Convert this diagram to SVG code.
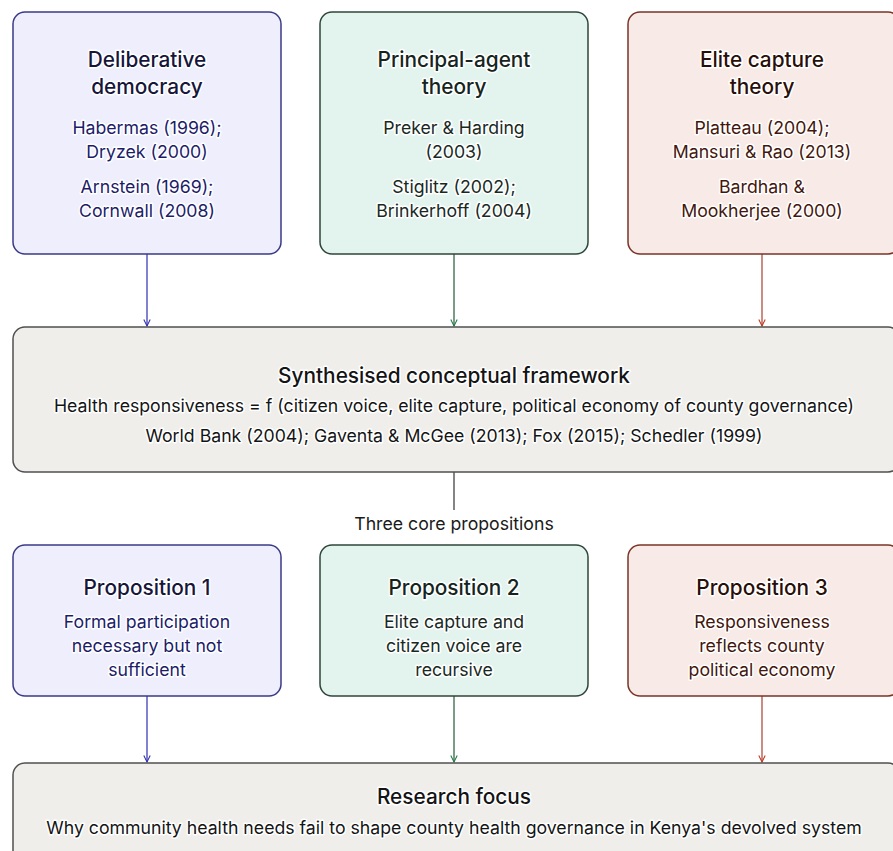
<svg xmlns="http://www.w3.org/2000/svg" width="893" height="851" viewBox="0 0 893 851">
<style>
text{font-family:Inter,"Noto Sans","Liberation Sans",sans-serif;text-anchor:middle;paint-order:stroke;stroke:#ffffff;stroke-width:3px;stroke-linejoin:round}
.t{font-size:20.8px;font-weight:500}
.s{font-size:17.7px}
.box{stroke-width:1.5}
.purple rect{fill:#EEEEFC;stroke:#3A3A86}
.purple .t{fill:#16163C}
.purple .s{fill:#1C1C6A}
.green rect{fill:#E3F4EE;stroke:#2E463A}
.green .t{fill:#14251D}
.green .s{fill:#18291F}
.red rect{fill:#F8EAE6;stroke:#7A3426}
.red .t{fill:#2A0E08}
.red .s{fill:#44160C}
.grey rect{fill:#EFEEEA;stroke:#505050}
.grey text{fill:#141414}
.c{fill:none;stroke-width:1.2}
</style>
<defs>
<marker id="ab" viewBox="0 0 10 10" refX="9" refY="5" markerWidth="8" markerHeight="8" orient="auto" markerUnits="userSpaceOnUse"><path d="M1,1 L9,5 L1,9" fill="none" stroke="#2E2EB0" stroke-width="1.3"/></marker>
<marker id="ag" viewBox="0 0 10 10" refX="9" refY="5" markerWidth="8" markerHeight="8" orient="auto" markerUnits="userSpaceOnUse"><path d="M1,1 L9,5 L1,9" fill="none" stroke="#1F7A45" stroke-width="1.3"/></marker>
<marker id="ar" viewBox="0 0 10 10" refX="9" refY="5" markerWidth="8" markerHeight="8" orient="auto" markerUnits="userSpaceOnUse"><path d="M1,1 L9,5 L1,9" fill="none" stroke="#C0341F" stroke-width="1.3"/></marker>
</defs>
<g id="connectors">
<path class="c" d="M147,254 V326" stroke="#2E2EB0" marker-end="url(#ab)"/>
<path class="c" d="M454,254 V326" stroke="#24583A" marker-end="url(#ag)"/>
<path class="c" d="M762,254 V326" stroke="#A8402E" marker-end="url(#ar)"/>
<path class="c" d="M454,472 V510" stroke="#333333"/>
<text x="454" y="530" class="s" fill="#1a1a1a">Three core propositions</text>
<path class="c" d="M147,696 V762" stroke="#2E2EB0" marker-end="url(#ab)"/>
<path class="c" d="M454,696 V762" stroke="#24583A" marker-end="url(#ag)"/>
<path class="c" d="M762,696 V762" stroke="#A8402E" marker-end="url(#ar)"/>
</g>
<g id="deliberative" class="purple">
<rect class="box" x="13" y="12" width="268" height="242" rx="12"/>
<text x="147" y="67" class="t">Deliberative</text>
<text x="147" y="94" class="t">democracy</text>
<text x="147" y="134" class="s">Habermas (1996);</text>
<text x="147" y="158" class="s">Dryzek (2000)</text>
<text x="147" y="193" class="s">Arnstein (1969);</text>
<text x="147" y="217" class="s">Cornwall (2008)</text>
</g>
<g id="principal" class="green">
<rect class="box" x="320" y="12" width="268" height="242" rx="12"/>
<text x="454" y="67" class="t">Principal-agent</text>
<text x="454" y="94" class="t">theory</text>
<text x="454" y="134" class="s">Preker &amp; Harding</text>
<text x="454" y="158" class="s">(2003)</text>
<text x="454" y="193" class="s">Stiglitz (2002);</text>
<text x="454" y="217" class="s">Brinkerhoff (2004)</text>
</g>
<g id="elite" class="red">
<rect class="box" x="628" y="12" width="272" height="242" rx="12"/>
<text x="762" y="67" class="t">Elite capture</text>
<text x="762" y="94" class="t">theory</text>
<text x="762" y="134" class="s">Platteau (2004);</text>
<text x="762" y="158" class="s">Mansuri &amp; Rao (2013)</text>
<text x="762" y="193" class="s">Bardhan &amp;</text>
<text x="762" y="217" class="s">Mookherjee (2000)</text>
</g>
<g id="framework" class="grey">
<rect class="box" x="13" y="327" width="887" height="145" rx="12"/>
<text x="454" y="383" class="t">Synthesised conceptual framework</text>
<text x="454" y="412" class="s">Health responsiveness = f (citizen voice, elite capture, political economy of county governance)</text>
<text x="454" y="442" class="s">World Bank (2004); Gaventa &amp; McGee (2013); Fox (2015); Schedler (1999)</text>
</g>
<g id="prop1" class="purple">
<rect class="box" x="13" y="545" width="268" height="151" rx="12"/>
<text x="147" y="595" class="t">Proposition 1</text>
<text x="147" y="628" class="s">Formal participation</text>
<text x="147" y="652" class="s">necessary but not</text>
<text x="147" y="676" class="s">sufficient</text>
</g>
<g id="prop2" class="green">
<rect class="box" x="320" y="545" width="268" height="151" rx="12"/>
<text x="454" y="595" class="t">Proposition 2</text>
<text x="454" y="628" class="s">Elite capture and</text>
<text x="454" y="652" class="s">citizen voice are</text>
<text x="454" y="676" class="s">recursive</text>
</g>
<g id="prop3" class="red">
<rect class="box" x="628" y="545" width="272" height="151" rx="12"/>
<text x="762" y="595" class="t">Proposition 3</text>
<text x="762" y="628" class="s">Responsiveness</text>
<text x="762" y="652" class="s">reflects county</text>
<text x="762" y="676" class="s">political economy</text>
</g>
<g id="research" class="grey">
<rect class="box" x="13" y="763" width="887" height="110" rx="12"/>
<text x="454" y="804" class="t">Research focus</text>
<text x="454" y="834" class="s">Why community health needs fail to shape county health governance in Kenya's devolved system</text>
</g>
</svg>
